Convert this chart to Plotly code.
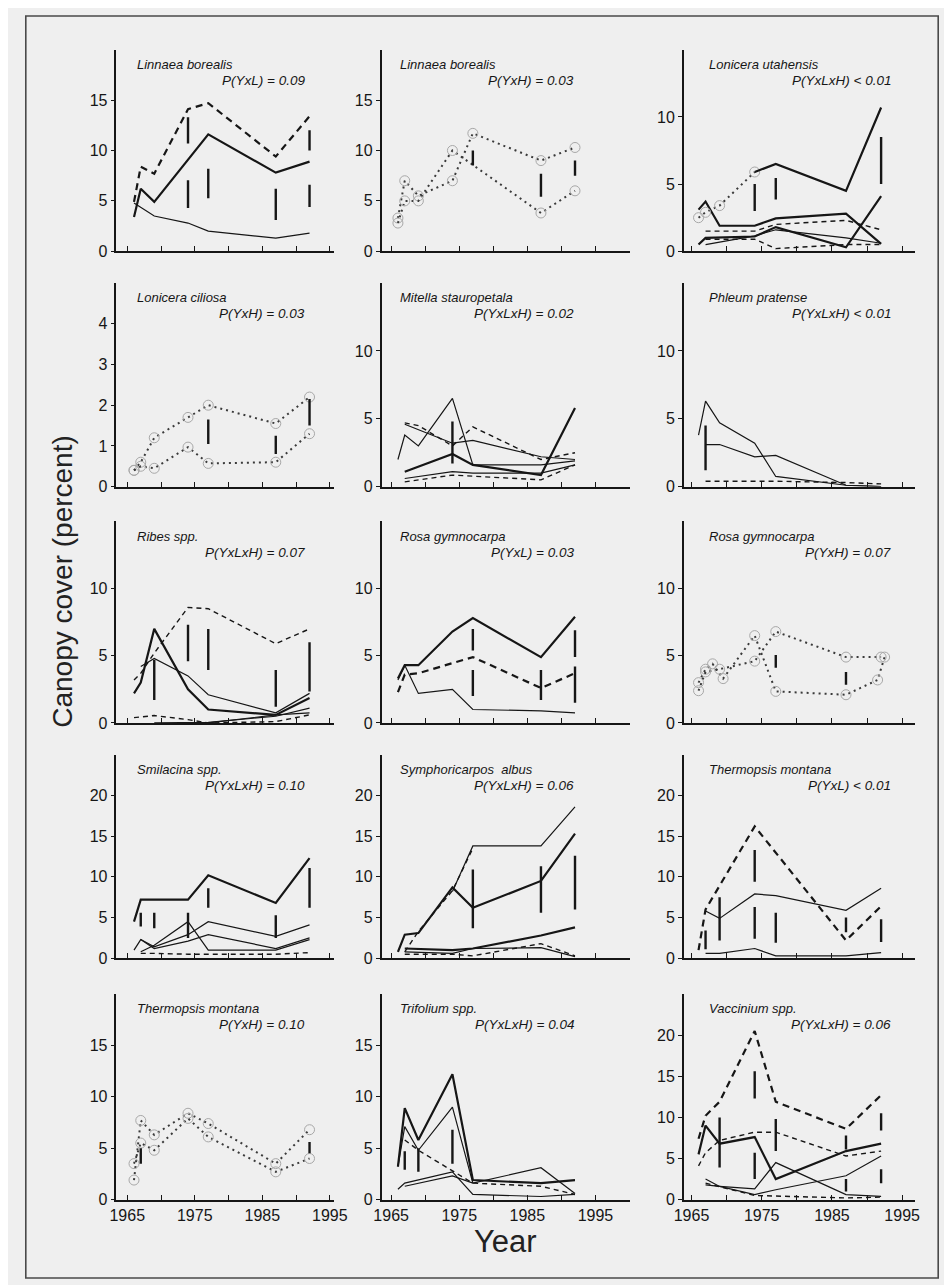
import plotly.graph_objects as go

W, H = 952, 1285
YEARS = [1966, 1967, 1969, 1974, 1977, 1987, 1992]

# ---------- Panel 1: Linnaea borealis P(YxL)
lbL_thick = [3.4, 6.2, 4.9, None, 11.6, 7.8, 8.9]
lbL_dash = [4.9, 8.4, 7.7, 14.1, 14.7, 9.4, 13.4]
lbL_thin = [4.8, None, 3.5, 2.8, 2.0, 1.3, 1.8]
lbL_bar_x = [1974, 1974, 1977, 1987, 1992, 1992]
lbL_bar_lo = [10.7, 4.3, 5.25, 3.1, 10.0, 4.4]
lbL_bar_hi = [13.3, 7.05, 8.2, 6.2, 12.0, 6.6]

# ---------- Panel 2: Linnaea borealis P(YxH)
lbH_a = [3.3, 7.0, 5.5, 7.0, 11.7, 9.0, 10.3]
lbH_b = [2.8, 5.0, 5.0, 10.0, None, 3.8, 6.0]
lbH_bar_x = [1977, 1987, 1992]
lbH_bar_lo = [8.5, 5.4, 7.5]
lbH_bar_hi = [10.0, 7.7, 9.0]

# ---------- Panel 3: Lonicera utahensis
lu_thick = [3.1, 3.7, 1.9, 1.9, 2.45, 2.8, 0.55]
lu_dot = [2.5, 2.9, 3.4, 5.9, None, None, None]
lu_upper = [None, None, None, 5.9, 6.5, 4.5, 10.7]
lu_c = [0.5, 1.0, None, 1.1, 1.8, 0.3, 4.1]
lu_thin = [None, 0.5, None, 1.15, 1.6, 1.0, 0.6]
lu_dash1 = [None, 1.5, None, 1.5, 2.0, 2.3, 1.6]
lu_dash2 = [None, 0.9, None, 0.9, 0.2, 0.5, 0.5]
lu_bar_x = [1974, 1977, 1992]
lu_bar_lo = [3.0, 3.85, 5.0]
lu_bar_hi = [5.0, 5.45, 8.5]

# ---------- Panel 4: Lonicera ciliosa
lc_a = [0.4, 0.6, 1.2, 1.7, 2.0, 1.55, 2.2]
lc_b = [0.4, 0.5, 0.45, 0.97, 0.57, 0.6, 1.3]
lc_bar_x = [1977, 1987, 1992]
lc_bar_lo = [1.05, 0.8, 1.5]
lc_bar_hi = [1.65, 1.25, 2.15]

# ---------- Panel 5: Mitella stauropetala
ms_s1 = [None, 4.6, None, 3.2, 3.4, 2.2, 2.0]
ms_s2 = [2.0, 3.8, 3.0, 6.5, 1.6, 1.6, 1.9]
ms_s3 = [None, 1.1, None, 2.4, 1.6, 0.85, 5.8]
ms_s4 = [None, 0.6, None, 1.1, 1.0, 1.0, 1.6]
ms_d1 = [None, 4.7, 4.5, 3.0, 4.4, 2.0, 2.5]
ms_d2 = [None, 0.35, None, 0.85, None, 0.5, 1.6]
ms_bar_x = [1974]
ms_bar_lo = [1.7]
ms_bar_hi = [4.8]

# ---------- Panel 6: Phleum pratense
pp_t1 = [3.8, 6.3, 4.7, 3.2, 0.75, 0.1, 0.0]
pp_t2 = [None, 3.1, 3.1, 2.2, 2.3, 0.1, 0.0]
pp_d = [None, 0.4, 0.4, 0.4, 0.4, 0.3, 0.2]
pp_bar_x = [1967]
pp_bar_lo = [1.2]
pp_bar_hi = [4.5]

# ---------- Panel 7: Ribes spp.
rb_dash = [3.2, 3.7, 5.2, 8.6, 8.5, 5.9, 7.0]
rb_peak = [2.2, 3.0, 7.0, 2.5, 1.0, 0.6, 1.85]
rb_s2 = [None, 4.2, 4.8, 3.5, 2.1, 0.75, 2.2]
rb_s3 = [None, None, 0.0, None, 0.05, 0.5, 1.1]
rb_s4 = [None, None, None, None, 0.0, 0.6, 0.75]
rb_dlow = [0.4, None, 0.55, 0.25, 0.0, 0.1, 0.6]
rb_bar_x = [1969, 1974, 1977, 1987, 1992]
rb_bar_lo = [1.7, 4.6, 3.95, 1.2, 2.35]
rb_bar_hi = [4.7, 7.3, 7.0, 3.95, 6.0]

# ---------- Panel 8: Rosa gymnocarpa P(YxL)
rgL_thick = [3.3, 4.3, 4.3, 6.8, 7.8, 4.9, 7.9]
rgL_dash = [2.3, 3.6, 3.7, None, 4.9, 2.6, 3.7]
rgL_thin = [3.2, 4.3, 2.2, 2.5, 1.0, 0.9, 0.75]
rgL_bar_x = [1977, 1977, 1987, 1992, 1992]
rgL_bar_lo = [5.4, 2.0, 1.7, 4.9, 1.5]
rgL_bar_hi = [7.0, 3.95, 3.95, 6.9, 4.2]

# ---------- Panel 9: Rosa gymnocarpa P(YxH)
rgH_a_x = [1966, 1967, 1968, 1969.5, 1974, 1977, 1987, 1991.5, 1992.5]
rgH_a = [3.0, 4.0, 4.4, 3.3, 6.5, 2.35, 2.1, 3.2, 4.9]
rgH_b = [2.4, 3.8, 4.0, 4.6, 6.8, 4.9, 4.9]
rgH_bar_x = [1977, 1987]
rgH_bar_lo = [4.1, 2.85]
rgH_bar_hi = [5.05, 3.8]

# ---------- Panel 10: Smilacina spp.
sm_thick = [4.5, 7.2, 7.2, 7.2, 10.2, 6.8, 12.3]
sm_s2 = [1.0, 2.3, 1.4, 2.9, 4.5, 2.7, 4.1]
sm_s3 = [None, 2.3, 1.2, 2.1, 2.9, 1.2, 2.5]
sm_s4 = [None, 0.8, 1.6, 4.5, 1.0, 1.0, 2.3]
sm_dlow = [None, 0.6, 0.6, 0.5, 0.5, 0.5, 0.7]
sm_bar_x = [1967, 1969, 1974, 1977, 1987, 1992]
sm_bar_lo = [3.9, 3.7, 2.5, 6.2, 2.5, 6.2]
sm_bar_hi = [5.6, 5.6, 5.6, 8.6, 5.3, 11.1]

# ---------- Panel 11: Symphoricarpos albus
sa_thick = [0.8, 2.9, 3.1, 8.7, 6.2, 9.5, 15.3]
sa_upper = [None, None, None, 8.2, 13.8, 13.8, 18.6]
sa_dash = [None, 0.8, 3.3, 8.3, 13.5, None, None]
sa_s3 = [None, 1.2, None, 1.0, 1.2, 2.8, 3.8]
sa_s4 = [None, 0.8, None, 0.6, 1.2, 1.3, 0.2]
sa_dlow = [None, 0.5, None, 0.5, 0.3, 1.8, 0.3]
sa_bar_x = [1977, 1987, 1992]
sa_bar_lo = [3.7, 5.6, 6.0]
sa_bar_hi = [10.9, 11.3, 12.6]

# ---------- Panel 12: Thermopsis montana P(YxL)
tmL_dash = [1.0, 6.0, None, 16.2, None, 2.2, 6.4]
tmL_solid = [None, 5.8, 4.9, 7.9, 7.7, 5.9, 8.6]
tmL_low = [None, 0.6, 0.6, 1.2, 0.3, 0.3, 0.7]
tmL_bar_x = [1967, 1969, 1974, 1974, 1977, 1987, 1992]
tmL_bar_lo = [1.1, 2.2, 9.4, 2.4, 1.9, 3.2, 2.0]
tmL_bar_hi = [3.4, 7.5, 13.3, 6.3, 5.6, 5.0, 4.8]

# ---------- Panel 13: Thermopsis montana P(YxH)
tmH_a = [1.9, 7.7, 6.3, 8.4, 7.4, 3.5, 6.8]
tmH_b = [3.5, 5.5, 4.8, 7.9, 6.1, 2.7, 4.0]
tmH_bar_x = [1967, 1992]
tmH_bar_lo = [3.5, 4.5]
tmH_bar_hi = [5.0, 5.6]

# ---------- Panel 14: Trifolium spp.
tr_thick = [3.2, 8.9, 5.8, 12.2, 1.9, 1.6, 1.9]
tr_s2 = [3.2, 7.1, 4.8, 9.0, 1.6, None, None]
tr_s3 = [1.0, 1.6, None, 2.7, 0.5, 0.3, 0.5]
tr_s4 = [None, 1.3, None, 2.3, 1.6, 3.1, 0.6]
tr_dash = [None, 5.8, 4.8, None, 1.6, 1.3, 0.5]
tr_bar_x = [1967, 1969, 1974]
tr_bar_lo = [2.9, 2.7, 3.5]
tr_bar_hi = [4.7, 5.0, 6.8]

# ---------- Panel 15: Vaccinium spp.
va_dash1 = [7.4, 10.2, 11.9, 20.5, 11.9, 8.6, 12.7]
va_dash2 = [4.1, 5.7, 7.2, 8.2, 8.2, 5.3, 5.9]
va_thick = [5.5, 9.0, 6.8, 7.6, 2.5, 5.9, 6.8]
va_s4 = [None, 2.5, 1.6, 1.3, 4.5, 0.6, 0.4]
va_s5 = [None, 1.8, 1.6, 0.6, 1.2, 2.9, 5.3]
va_dlow = [None, 2.0, None, 0.5, None, 0.2, 0.3]
va_bar_x = [1969, 1974, 1974, 1977, 1987, 1987, 1992, 1992]
va_bar_lo = [3.9, 12.3, 2.5, 5.9, 6.1, 1.0, 8.4, 2.0]
va_bar_hi = [10.0, 15.6, 5.7, 9.8, 7.8, 2.5, 10.5, 3.7]

TITLES = ["Linnaea borealis", "Linnaea borealis", "Lonicera utahensis",
          "Lonicera ciliosa", "Mitella stauropetala", "Phleum pratense",
          "Ribes spp.", "Rosa gymnocarpa", "Rosa gymnocarpa",
          "Smilacina spp.", "Symphoricarpos  albus", "Thermopsis montana",
          "Thermopsis montana", "Trifolium spp.", "Vaccinium spp."]
PVALS = ["P(YxL) = 0.09", "P(YxH) = 0.03", "P(YxLxH) < 0.01",
         "P(YxH) = 0.03", "P(YxLxH) = 0.02", "P(YxLxH) < 0.01",
         "P(YxLxH) = 0.07", "P(YxL) = 0.03", "P(YxH) = 0.07",
         "P(YxLxH) = 0.10", "P(YxLxH) = 0.06", "P(YxL) < 0.01",
         "P(YxH) = 0.10", "P(YxLxH) = 0.04", "P(YxLxH) = 0.06"]
YMAX = [20, 20, 15, 5, 15, 15, 15, 15, 15, 25, 25, 25, 20, 20, 25]
YTICKS = [[0, 5, 10, 15], [0, 5, 10, 15], [0, 5, 10],
          [0, 1, 2, 3, 4], [0, 5, 10], [0, 5, 10],
          [0, 5, 10], [0, 5, 10], [0, 5, 10],
          [0, 5, 10, 15, 20], [0, 5, 10, 15, 20], [0, 5, 10, 15, 20],
          [0, 5, 10, 15], [0, 5, 10, 15], [0, 5, 10, 15, 20]]

SERIES = [
    [(YEARS, lbL_thick, "S"), (YEARS, lbL_dash, "D"), (YEARS, lbL_thin, "s")],
    [(YEARS, lbH_a, ":"), (YEARS, lbH_b, ":")],
    [(YEARS, lu_thick, "S"), (YEARS, lu_dot, ":"), (YEARS, lu_upper, "S"), (YEARS, lu_c, "S"),
     (YEARS, lu_thin, "s"), (YEARS, lu_dash1, "d"), (YEARS, lu_dash2, "d")],
    [(YEARS, lc_a, ":"), (YEARS, lc_b, ":")],
    [(YEARS, ms_s1, "s"), (YEARS, ms_s2, "s"), (YEARS, ms_s3, "S"), (YEARS, ms_s4, "s"),
     (YEARS, ms_d1, "d"), (YEARS, ms_d2, "d")],
    [(YEARS, pp_t1, "s"), (YEARS, pp_t2, "s"), (YEARS, pp_d, "d")],
    [(YEARS, rb_dash, "d"), (YEARS, rb_peak, "S"), (YEARS, rb_s2, "s"), (YEARS, rb_s3, "s"),
     (YEARS, rb_s4, "s"), (YEARS, rb_dlow, "d")],
    [(YEARS, rgL_thick, "S"), (YEARS, rgL_dash, "D"), (YEARS, rgL_thin, "s")],
    [(rgH_a_x, rgH_a, ":"), (YEARS, rgH_b, ":")],
    [(YEARS, sm_thick, "S"), (YEARS, sm_s2, "s"), (YEARS, sm_s3, "s"), (YEARS, sm_s4, "s"),
     (YEARS, sm_dlow, "d")],
    [(YEARS, sa_thick, "S"), (YEARS, sa_upper, "s"), (YEARS, sa_dash, "d"), (YEARS, sa_s3, "S"),
     (YEARS, sa_s4, "s"), (YEARS, sa_dlow, "d")],
    [(YEARS, tmL_dash, "D"), (YEARS, tmL_solid, "s"), (YEARS, tmL_low, "s")],
    [(YEARS, tmH_a, ":"), (YEARS, tmH_b, ":")],
    [(YEARS, tr_thick, "S"), (YEARS, tr_s2, "s"), (YEARS, tr_s3, "s"), (YEARS, tr_s4, "s"),
     (YEARS, tr_dash, "d")],
    [(YEARS, va_dash1, "D"), (YEARS, va_dash2, "d"), (YEARS, va_thick, "S"), (YEARS, va_s4, "s"),
     (YEARS, va_s5, "s"), (YEARS, va_dlow, "d")],
]
BARS = [(lbL_bar_x, lbL_bar_lo, lbL_bar_hi), (lbH_bar_x, lbH_bar_lo, lbH_bar_hi),
        (lu_bar_x, lu_bar_lo, lu_bar_hi), (lc_bar_x, lc_bar_lo, lc_bar_hi),
        (ms_bar_x, ms_bar_lo, ms_bar_hi), (pp_bar_x, pp_bar_lo, pp_bar_hi),
        (rb_bar_x, rb_bar_lo, rb_bar_hi), (rgL_bar_x, rgL_bar_lo, rgL_bar_hi),
        (rgH_bar_x, rgH_bar_lo, rgH_bar_hi), (sm_bar_x, sm_bar_lo, sm_bar_hi),
        (sa_bar_x, sa_bar_lo, sa_bar_hi), (tmL_bar_x, tmL_bar_lo, tmL_bar_hi),
        (tmH_bar_x, tmH_bar_lo, tmH_bar_hi), (tr_bar_x, tr_bar_lo, tr_bar_hi),
        (va_bar_x, va_bar_lo, va_bar_hi)]

# layout geometry (pixels)
COLS = [(101, 324, 1963.4, 1995.6), (373, 628, 1963.6, 2000.1), (683, 920, 1963.9, 1996.8)]
ROWS = [(42, 245), (277, 482), (517, 720), (752, 957), (993, 1200)]
TITLE_X = [120, 390, 707]
PVAL_X = [296, 572, 898]

INK = "#161616"
FONT = "Liberation Sans, Arial, Helvetica, sans-serif"
STYLES = {
    "S": dict(width=2.2, dash="solid"),
    "s": dict(width=1.2, dash="solid"),
    "D": dict(width=2.2, dash="7px,5px"),
    "d": dict(width=1.4, dash="5px,4px"),
    ":": dict(width=2.0, dash="2px,4px"),
}

fig = go.Figure()
layout = {}
annotations = []


def fx(px):
    return px / W


def fy(py):
    return 1 - py / H


for i in range(15):
    r, c = divmod(i, 3)
    n = "" if i == 0 else str(i + 1)
    x0, x1, xr0, xr1 = COLS[c]
    top, bot = ROWS[r]
    if c == 1:
        xt = [1965, 1970, 1975, 1980, 1985, 1990, 1995, 2000]
    else:
        xt = [1965, 1970, 1975, 1980, 1985, 1990, 1995]
    xtt = [str(v) if v in (1965, 1975, 1985, 1995) else "" for v in xt]
    layout["xaxis" + n] = dict(
        domain=[fx(x0), fx(x1)], range=[xr0, xr1], anchor="y" + n,
        showline=True, linecolor=INK, linewidth=1.6, showgrid=False, zeroline=False,
        ticks="inside", ticklen=5, tickwidth=1.4, tickcolor=INK,
        tickvals=xt, ticktext=xtt, showticklabels=(r == 4),
        tickfont=dict(family=FONT, size=16, color=INK),
    )
    layout["yaxis" + n] = dict(
        domain=[fy(bot), fy(top)], range=[0, YMAX[i]], anchor="x" + n,
        showline=True, linecolor=INK, linewidth=1.6, showgrid=False, zeroline=False,
        ticks="outside", ticklen=4, tickwidth=1.4, tickcolor=INK,
        tickvals=YTICKS[i], ticktext=[str(v) for v in YTICKS[i]],
        tickfont=dict(family=FONT, size=16, color=INK),
    )
    for xs, ys, st in SERIES[i]:
        style = STYLES[st]
        color = "#3a3a3a" if st == ":" else INK
        mode = "lines+markers" if st == ":" else "lines"
        fig.add_trace(go.Scatter(
            x=xs, y=ys, mode=mode, connectgaps=True, showlegend=False,
            xaxis="x" + n, yaxis="y" + n, cliponaxis=False,
            line=dict(color=color, width=style["width"], dash=style["dash"]),
            marker=dict(symbol="circle-open", size=10, color="#a8a8a8", line=dict(width=1)),
            hoverinfo="skip",
        ))
    bx, blo, bhi = BARS[i]
    vx, vy = [], []
    for x, lo, hi in zip(bx, blo, bhi):
        vx += [x, x, None]
        vy += [lo, hi, None]
    fig.add_trace(go.Scatter(
        x=vx, y=vy, mode="lines", showlegend=False, xaxis="x" + n, yaxis="y" + n,
        line=dict(color=INK, width=2.4), hoverinfo="skip",
    ))
    annotations.append(dict(
        x=fx(TITLE_X[c]), y=fy(top + 15), xref="paper", yref="paper",
        text="<i>" + TITLES[i] + "</i>", showarrow=False, xanchor="left", yanchor="middle",
        font=dict(family=FONT, size=13, color=INK),
    ))
    annotations.append(dict(
        x=fx(PVAL_X[c]), y=fy(top + 31), xref="paper", yref="paper",
        text="<i>" + PVALS[i] + "</i>", showarrow=False, xanchor="right", yanchor="middle",
        font=dict(family=FONT, size=13.5, color=INK),
    ))

annotations.append(dict(
    x=fx(46), y=fy(577), xref="paper", yref="paper", text="Canopy cover (percent)",
    textangle=-90, showarrow=False, xanchor="center", yanchor="middle",
    font=dict(family=FONT, size=28, color="#222"),
))
annotations.append(dict(
    x=fx(500), y=fy(1242), xref="paper", yref="paper", text="Year",
    showarrow=False, xanchor="center", yanchor="middle",
    font=dict(family=FONT, size=31, color="#222"),
))

fig.update_layout(
    width=W, height=H, margin=dict(l=0, r=0, t=0, b=0),
    paper_bgcolor="#efefef", plot_bgcolor="rgba(0,0,0,0)",
    annotations=annotations,
    shapes=[dict(type="rect", xref="paper", yref="paper",
                 x0=fx(8), x1=fx(944), y0=fy(1279), y1=fy(8),
                 line=dict(color="#4a4a4a", width=1.6))],
    **layout,
)

fig.write_html("out.html")
